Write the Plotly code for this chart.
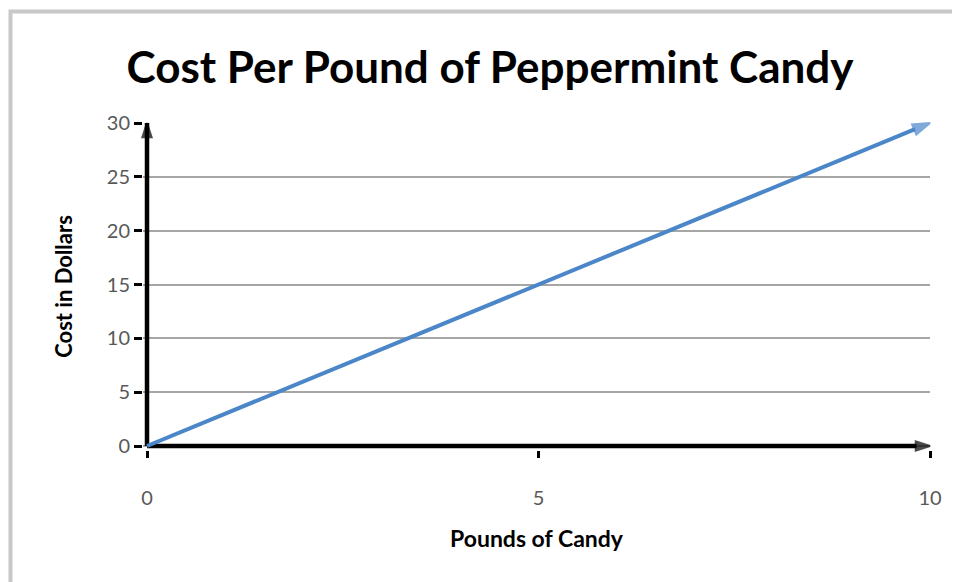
import plotly.graph_objects as go

# Data
pounds = [0, 10]
cost = [0, 30]
x_ticks = [0, 5, 10]
y_ticks = [0, 5, 10, 15, 20, 25, 30]
title_text = "Cost Per Pound of Peppermint Candy"
x_title = "Pounds of Candy"
y_title = "Cost in Dollars"

FONT = "Lato"
W, H = 960, 582
OFF = 8  # page body margin
PAD = 4  # px of padding so axis lines at 0 are not clipped
L, R, T, B = 147 - OFF - PAD, 30 + OFF, 123 - OFF, 136 + OFF - PAD
x_pad = PAD / 783 * 10
y_pad = PAD / 323 * 30

fig = go.Figure()

# Axis lines with arrow heads
fig.add_trace(go.Scatter(
    x=[0, 0], y=[0, 30], mode="lines+markers",
    line=dict(color="black", width=4.5),
    marker=dict(symbol="arrow", angleref="previous", size=[0, 15], color="black",
                line=dict(color="black", width=2)),
    cliponaxis=False, hoverinfo="skip", showlegend=False))
fig.add_trace(go.Scatter(
    x=[0, 10], y=[0, 0], mode="lines+markers",
    line=dict(color="black", width=4.5),
    marker=dict(symbol="arrow", angleref="previous", size=[0, 15], color="black",
                line=dict(color="black", width=2)),
    cliponaxis=False, hoverinfo="skip", showlegend=False))

# Data line
fig.add_trace(go.Scatter(
    x=pounds, y=cost, mode="lines+markers",
    line=dict(color="#4a86c8", width=4),
    marker=dict(symbol="arrow", angleref="previous", size=[0, 18], color="#4a86c8",
                line=dict(color="#4a86c8", width=2)),
    cliponaxis=False, showlegend=False))

pw = W - L - R
ph = H - T - B
x_paper = lambda px: (px - OFF - L) / pw
y_paper = lambda py: (H - B - (py - OFF)) / ph

fig.update_layout(
    width=W, height=H,
    margin=dict(l=L, r=R, t=T, b=B),
    paper_bgcolor="white", plot_bgcolor="white",
    font=dict(family=FONT, color="#595959"),
    title=dict(text=title_text, x=(490 - OFF) / W, xref="container", xanchor="center",
               y=1 - (68 - OFF) / H, yref="container", yanchor="middle",
               font=dict(family=FONT, size=44, color="black", weight="bold")),
    xaxis=dict(range=[-x_pad, 10], tickvals=x_ticks, ticktext=[str(v) for v in x_ticks],
               showgrid=False, zeroline=False, showline=False,
               ticks="outside", ticklen=7, tickwidth=3, tickcolor="black",
               ticklabelstandoff=23,
               tickfont=dict(family=FONT, size=20, color="#595959"),
               title=dict(text=x_title, standoff=22,
                          font=dict(family=FONT, size=23, color="black", weight="bold"))),
    yaxis=dict(range=[-y_pad, 30], tickvals=y_ticks, ticktext=[str(v) for v in y_ticks],
               showgrid=True, gridcolor="#a6a6a6", gridwidth=2,
               zeroline=False, showline=False,
               ticks="outside", ticklen=8, tickwidth=3, tickcolor="black",
               ticklabelstandoff=0,
               tickfont=dict(family=FONT, size=20, color="#595959"),
               title=dict(text=y_title, standoff=28,
                          font=dict(family=FONT, size=22, color="black", weight="bold"))),
    shapes=[dict(type="rect", xref="paper", yref="paper",
                 x0=x_paper(10.5), x1=x_paper(1100), y0=y_paper(800), y1=y_paper(11.5),
                 line=dict(color="#c8c8c8", width=4), fillcolor="rgba(0,0,0,0)", layer="below")],
)

fig.write_html("out.html")
